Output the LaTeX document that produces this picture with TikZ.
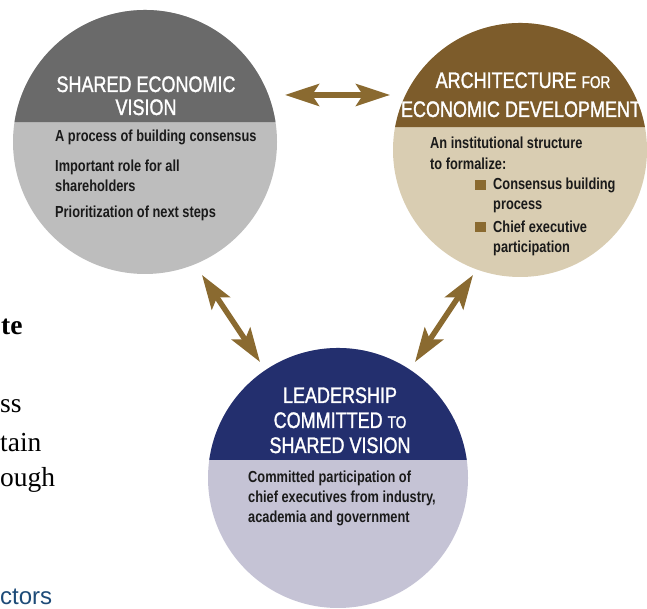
\documentclass[tikz,border=0pt]{standalone}
\usepackage{fontspec}
\setmainfont{Liberation Serif}
\newfontfamily\cond[FakeStretch=0.8]{Liberation Sans}
\newfontfamily\condhead[FakeStretch=0.8,FakeBold=1.3]{Liberation Sans}
\newfontfamily\plainsans{Liberation Sans}
\usetikzlibrary{arrows.meta,calc}
\definecolor{gcap}{HTML}{6A6A6A}
\definecolor{gbody}{HTML}{BDBDBD}
\definecolor{tcap}{HTML}{7D5C2B}
\definecolor{tbody}{HTML}{D9CDB2}
\definecolor{bcap}{HTML}{232F6E}
\definecolor{bbody}{HTML}{C5C3D5}
\definecolor{arrowc}{HTML}{8A6A30}
\definecolor{ctorsblue}{HTML}{1D4B78}
\definecolor{bodytext}{HTML}{1A1A1A}
\begin{document}
\begin{tikzpicture}[x=1pt,y=1pt,
  disc/.style={circle,inner sep=0pt,outer sep=0pt,minimum size=#1},
  head/.style={text=white,font=\condhead\fontsize{22.5}{25}\selectfont,inner sep=0pt,anchor=base},
  body/.style={text=bodytext,font=\cond\bfseries\fontsize{16}{19}\selectfont,inner sep=0pt,anchor=base west},
  sqbullet/.style={rectangle,fill=arrowc,inner sep=0pt,minimum width=11pt,minimum height=10pt},
  twoway/.style={draw=arrowc,line width=5.5pt,{Stealth[length=34pt,width=22pt,inset=7pt]}-{Stealth[length=34pt,width=22pt,inset=7pt]}},
  frag/.style={inner sep=0pt,anchor=base west,font=\fontsize{27.5}{30}\selectfont}
]
\useasboundingbox (0,0) rectangle (647,609);

% Shared economic vision
\node[disc=264pt,fill=gbody] (sv) at (145,467) {};
\fill[gcap] (sv.center) ++(8.7:132) arc[start angle=8.7,end angle=171.3,radius=132] -- cycle;
\node[head] (sv1) at (146,517) {SHARED ECONOMIC};
\node[head] (sv2) at (146,494) {VISION};
\node[body] (sva) at (55,467) {A process of building consensus};
\node[body] (svb) at (55,437) {Important role for all};
\node[body] (svc) at (55,417) {shareholders};
\node[body] (svd) at (55,391) {Prioritization of next steps};

% Architecture for economic development
\node[disc=254pt,fill=tbody] (ar) at (520,459) {};
\fill[tcap] (ar.center) ++(10.43:127) arc[start angle=10.43,end angle=169.57,radius=127] -- cycle;
\node[head] (ar1) at (523,521) {ARCHITECTURE {\fontsize{17}{20}\selectfont FOR}};
\node[head] (ar2) at (521,492) {ECONOMIC DEVELOPMENT};
\node[body] (ara) at (430,460) {An institutional structure};
\node[body] (arb) at (430,439) {to formalize:};
\node[sqbullet] (bu1) at (480.5,424) {};
\node[body] (arcc) at (493,419) {Consensus building};
\node[body] (ard) at (493,399) {process};
\node[sqbullet] (bu2) at (480.5,381.5) {};
\node[body] (are) at (493,376) {Chief executive};
\node[body] (arf) at (493,356) {participation};

% Leadership committed to shared vision
\node[disc=260pt,fill=bbody] (ld) at (338,131) {};
\fill[bcap] (ld.center) ++(7.96:130) arc[start angle=7.96,end angle=172.04,radius=130] -- cycle;
\node[head] (ld1) at (340,206) {LEADERSHIP};
\node[head] (ld2) at (340,181) {COMMITTED {\fontsize{17}{20}\selectfont TO}};
\node[head] (ld3) at (340,156) {SHARED VISION};
\node[body] (lda) at (248,126) {Committed participation of};
\node[body] (ldb) at (248,106) {chief executives from industry,};
\node[body] (ldc) at (248,86) {academia and government};

% connectors
\coordinate (h1) at ($(sv.center)+(140,47)$);
\coordinate (h2) at ($(ar.center)+(-130,55)$);
\coordinate (d1) at ($(sv.center)+(57,-133)$);
\coordinate (d2) at ($(ld.center)+(-78,116)$);
\coordinate (e1) at ($(ar.center)+(-47,-125)$);
\coordinate (e2) at ($(ld.center)+(77,116)$);
\draw[twoway] (h1) -- (h2);
\draw[twoway] (d1) -- (d2);
\draw[twoway] (e1) -- (e2);

% page text fragments at the left edge
\node[frag,font=\bfseries\fontsize{27.5}{30}\selectfont] (f1) at (1,274) {te};
\node[frag] (f2) at (0,196) {ss};
\node[frag] (f3) at (0,157) {tain};
\node[frag] (f4) at (0,122) {ough};
\node[frag,font=\plainsans\fontsize{24}{28}\selectfont,text=ctorsblue] (f5) at (0,4) {ctors};
\end{tikzpicture}
\end{document}
